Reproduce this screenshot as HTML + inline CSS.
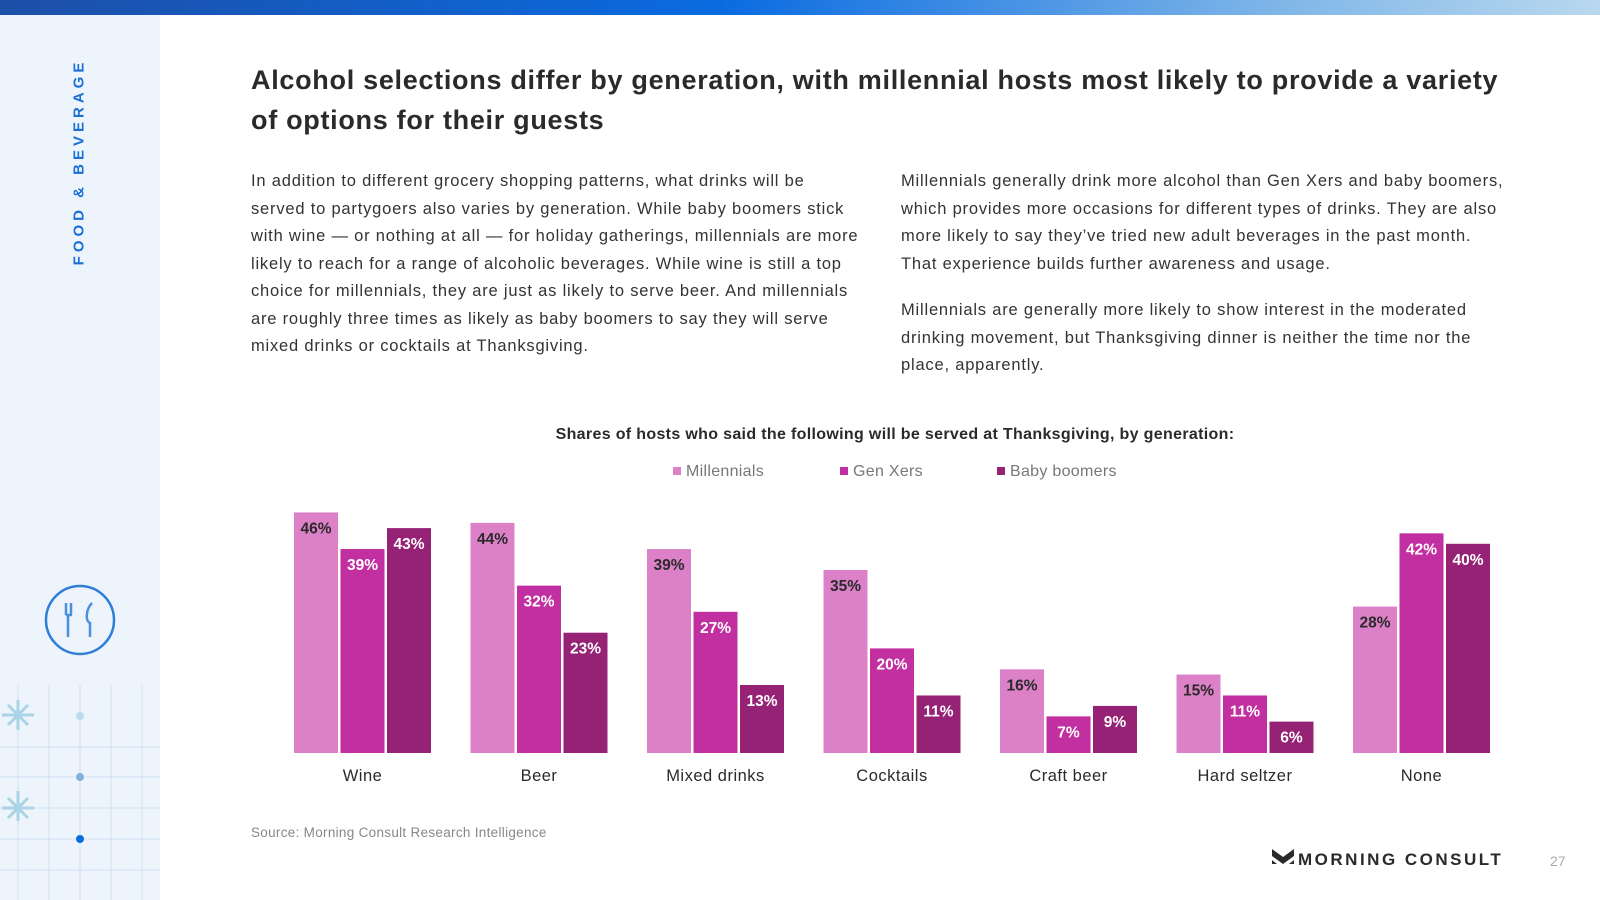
<!DOCTYPE html>
<html><head><meta charset="utf-8">
<style>
*{margin:0;padding:0;box-sizing:border-box}
body{width:1600px;height:900px;overflow:hidden;background:#fff;font-family:"Liberation Sans",sans-serif;position:relative;color:#2a2a2a}
.topbar{position:absolute;left:0;top:0;width:1600px;height:15px;background:linear-gradient(90deg,#1d4fa8 0%,#0a6be0 45%,#7fb6e8 80%,#b9d8ee 100%)}
.side{position:absolute;left:0;top:15px;width:160px;height:885px;background:#edf4fb}
.vt{position:absolute;left:79px;top:147px;transform:translate(-50%,-50%) rotate(-90deg);white-space:nowrap;color:#1a6fd6;font-weight:bold;font-size:15px;letter-spacing:4px}
h1{position:absolute;left:251px;top:60px;width:1300px;font-size:27px;line-height:40px;font-weight:bold;color:#2a2a2a;white-space:nowrap;letter-spacing:0.7px}
.p{position:absolute;font-size:16.5px;line-height:27.5px;color:#333;white-space:nowrap;letter-spacing:0.8px}
.ct{position:absolute;left:0;width:1600px;text-align:center;top:426px;font-weight:bold;font-size:16px;padding-left:190px;letter-spacing:0.33px}
.leg{position:absolute;top:463px;font-size:16px;color:#777;letter-spacing:0.3px}
.leg i{display:inline-block;width:8px;height:8px;margin-right:5px;vertical-align:1px}
.src{position:absolute;left:251px;top:825px;font-size:13.5px;color:#888;letter-spacing:0.3px}
.logo{position:absolute;left:1272px;top:849px;font-weight:bold;font-size:17px;letter-spacing:2.5px;color:#2a2a2a}
.pg{position:absolute;left:1550px;top:853px;font-size:14px;color:#aaa}
</style></head><body>
<div class="topbar"></div>
<div class="side">
<svg width="160" height="885" style="position:absolute;left:0;top:0">
<g stroke="#cfe0f3" stroke-width="1">
<line x1="0" y1="732" x2="160" y2="732"/><line x1="0" y1="762" x2="160" y2="762"/><line x1="0" y1="793" x2="160" y2="793"/><line x1="0" y1="824" x2="160" y2="824"/><line x1="0" y1="855" x2="160" y2="855"/>
<line x1="18" y1="670" x2="18" y2="885"/><line x1="49" y1="670" x2="49" y2="885"/><line x1="80" y1="670" x2="80" y2="885"/><line x1="111" y1="670" x2="111" y2="885"/><line x1="142" y1="670" x2="142" y2="885"/>
</g>
<g stroke="#a9d3e6" stroke-width="3"><line x1="18" y1="685" x2="18" y2="715"/><line x1="2" y1="700" x2="34" y2="700"/><line x1="8" y1="690" x2="28" y2="710"/><line x1="28" y1="690" x2="8" y2="710"/>
<line x1="18" y1="776" x2="18" y2="806"/><line x1="2" y1="793" x2="34" y2="793"/><line x1="8" y1="783" x2="28" y2="803"/><line x1="28" y1="783" x2="8" y2="803"/></g>
<circle cx="80" cy="701" r="4" fill="#bcdcea"/><circle cx="80" cy="762" r="4" fill="#7fb2e0"/><circle cx="80" cy="824" r="4" fill="#0a6be0"/>
<circle cx="80" cy="605" r="34" fill="none" stroke="#2f7fd8" stroke-width="2.5"/>
<g stroke="#4a90dc" stroke-width="2.5" fill="none"><path d="M66 588v12M71 588v12M68 600v22M66 600h6"/><path d="M92 588c-6 6-7 18-2 20v14"/></g>
</svg>
<div class="vt">FOOD &amp; BEVERAGE</div>
</div>
<h1>Alcohol selections differ by generation, with millennial hosts most likely to provide a variety<br>of options for their guests</h1>
<div class="p" style="left:251px;top:168px">In addition to different grocery shopping patterns, what drinks will be<br>served to partygoers also varies by generation. While baby boomers stick<br>with wine — or nothing at all — for holiday gatherings, millennials are more<br>likely to reach for a range of alcoholic beverages. While wine is still a top<br>choice for millennials, they are just as likely to serve beer. And millennials<br>are roughly three times as likely as baby boomers to say they will serve<br>mixed drinks or cocktails at Thanksgiving.</div>
<div class="p" style="left:901px;top:168px">Millennials generally drink more alcohol than Gen Xers and baby boomers,<br>which provides more occasions for different types of drinks. They are also<br>more likely to say they’ve tried new adult beverages in the past month.<br>That experience builds further awareness and usage.</div>
<div class="p" style="left:901px;top:297px">Millennials are generally more likely to show interest in the moderated<br>drinking movement, but Thanksgiving dinner is neither the time nor the<br>place, apparently.</div>
<div class="ct">Shares of hosts who said the following will be served at Thanksgiving, by generation:</div>
<div class="leg" style="left:673px"><i style="background:#dc80c8"></i>Millennials</div>
<div class="leg" style="left:840px"><i style="background:#c22fa0"></i>Gen Xers</div>
<div class="leg" style="left:997px"><i style="background:#952275"></i>Baby boomers</div>
<svg id="chart" width="1600" height="900" style="position:absolute;left:0;top:0"></svg>
<div class="src">Source: Morning Consult Research Intelligence</div>
<div class="logo"><svg width="22" height="18" style="vertical-align:-2px;margin-right:4px"><path d="M0 0l11 8 11-8v7l-11 8-11-8z M0 11l5 4H0z M22 11l-5 4h5z" fill="#2a2a2a"/></svg>MORNING CONSULT</div>
<div class="pg">27</div>
<script>
const categories=["Wine","Beer","Mixed drinks","Cocktails","Craft beer","Hard seltzer","None"];
const millennials=[46,44,39,35,16,15,28];
const genX=[39,32,27,20,7,11,42];
const boomers=[43,23,13,11,9,6,40];
const series=[millennials,genX,boomers];
const colors=["#dc80c8","#c22fa0","#952275"];
const labelColors=["#2a2a2a","#fff","#fff"];
const names=["millennials","gen-x","boomers"];
const svg=document.getElementById('chart');
const NS="http://www.w3.org/2000/svg";
const base=753, pxPer=5.23, g0=294, gStep=176.5, bw=44, bStep=46.5;
const y=v=>base-v*pxPer;
categories.forEach((c,i)=>{
  series.forEach((s,k)=>{
    const x=g0+i*gStep+k*bStep;
    const r=document.createElementNS(NS,'rect');
    r.setAttribute('x',x);r.setAttribute('y',y(s[i]));r.setAttribute('width',bw);r.setAttribute('height',base-y(s[i]));r.setAttribute('fill',colors[k]);
    
    
    svg.appendChild(r);
    const t=document.createElementNS(NS,'text');
    t.setAttribute('x',x+bw/2);t.setAttribute('y',y(s[i])+21);t.setAttribute('text-anchor','middle');
    t.setAttribute('font-size','15.5');t.setAttribute('font-weight','bold');t.setAttribute('fill',labelColors[k]);
    t.setAttribute('font-family','Liberation Sans, sans-serif');
    t.textContent=s[i]+'%';
    
    
    svg.appendChild(t);
  });
  const l=document.createElementNS(NS,'text');
  l.setAttribute('x',g0+i*gStep+bStep+bw/2);l.setAttribute('y',781);l.setAttribute('text-anchor','middle');
  l.setAttribute('font-size','16.5');l.setAttribute('fill','#2a2a2a');l.setAttribute('font-family','Liberation Sans, sans-serif');
  l.setAttribute('letter-spacing','0.5');
  l.textContent=c;
  
  
  svg.appendChild(l);
});
</script>
</body></html>
